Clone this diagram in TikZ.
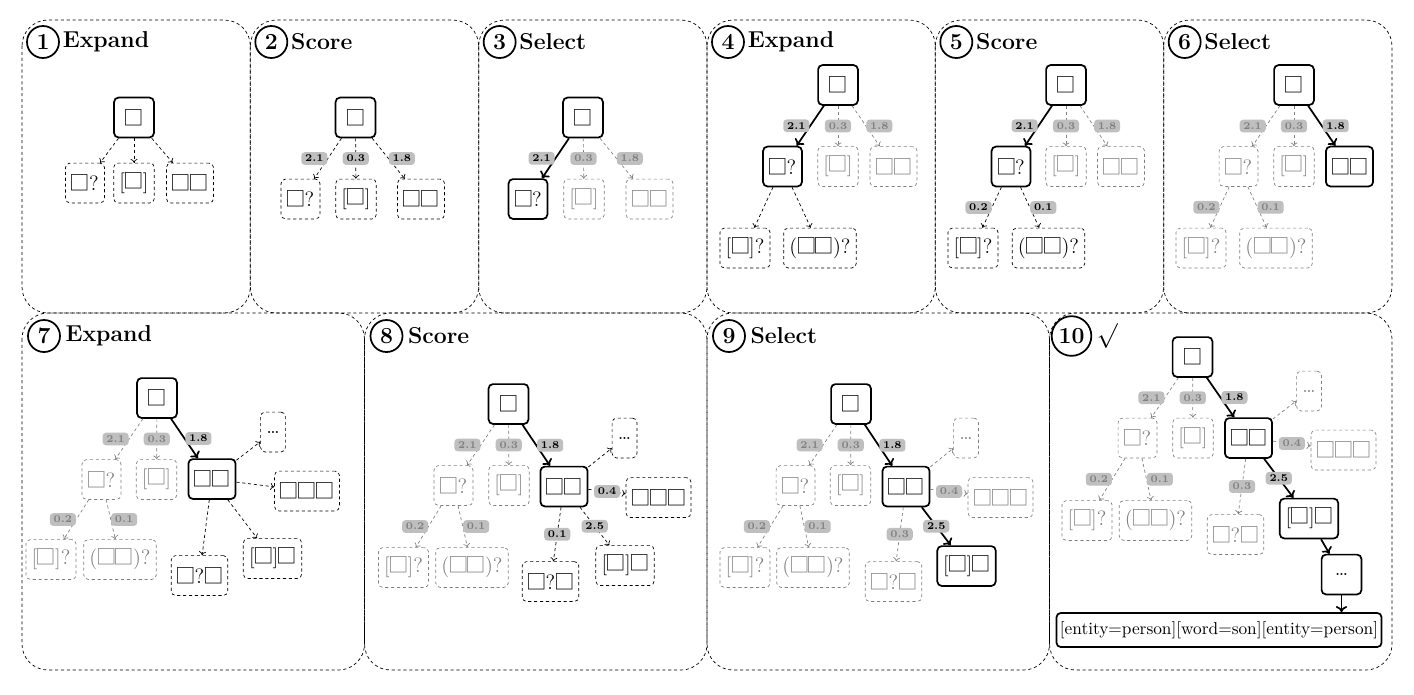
\documentclass[tikz,border=0pt]{standalone}
\usepackage{fontspec}
\newfontfamily\cjk{Noto Sans CJK SC}
\usetikzlibrary{positioning,arrows.meta}
\newcommand\sq{{\cjk\fontsize{11.8}{12}\selectfont\kern-0.75pt□\kern-0.75pt}}

\begin{document}
\begin{tikzpicture}[x=0.578pt,y=-0.578pt,
    stage/.style={draw, dash pattern=on 1.8pt off 1.6pt, rounded corners=15pt},
    num/.style={circle, draw, line width=1pt, inner sep=2pt, minimum size=18.5pt,
        font=\fontsize{13.3}{16}\selectfont\bfseries},
    ttl/.style={inner sep=0pt, font=\fontsize{13.3}{16}\selectfont\bfseries},
    hit/.style={draw, line width=1pt, rounded corners=2.5pt, minimum height=23pt,
        inner xsep=3.3pt, font=\fontsize{12}{14}\selectfont},
    top/.style={hit, minimum width=23pt},
    cand/.style={draw, dash pattern=on 1.8pt off 1.6pt, rounded corners=2.5pt,
        minimum height=23pt, inner xsep=3.3pt, font=\fontsize{12}{14}\selectfont},
    gone/.style={cand, draw=gray, text=gray},
    ext/.style={-{To[length=2.2pt,width=4pt]}, dash pattern=on 1.8pt off 1.6pt},
    extg/.style={ext, gray},
    pick/.style={-{To[length=3.5pt,width=6.5pt]}, line width=1pt},
    sc/.style={fill=gray!50, rounded corners=2pt, inner xsep=2.2pt, inner ysep=1.7pt,
        font=\fontsize{6}{7}\selectfont\bfseries},
    scg/.style={sc, text=gray}]
\useasboundingbox (0,0) rectangle (1414,694);

\foreach \n/\t [count=\i from 0] in {1/Expand,2/Score,3/Select,4/Expand,5/Score,6/Select}{
    \draw[stage] (22+228.33*\i,20) rectangle ++(228.33,293);
    \node[num] (n\n) at (43+228.33*\i,42) {\n};
    \node[ttl, right=1.5pt of n\n] {\t};
}
\foreach \n/\t [count=\i from 0] in {7/Expand,8/Score,9/Select,10/$\surd$}{
    \draw[stage] (22+342.5*\i,313) rectangle ++(342.5,357);
    \node[num] (n\n) at (44+342.5*\i,336) {\n};
    \node[ttl, right=2.5pt of n\n] {\t};
}

% 1 Expand
\node[top] (p1r) at (134,117.5) {\sq};
\node[cand] (p1q) at (85,183) {\sq?};
\node[cand] (p1b) at (134,183) {[\sq]};
\node[cand] (p1c) at (190,183) {\sq\sq};
\foreach \k in {q,b,c} \draw[ext] (p1r) -- (p1\k);

% 2 Score
\node[top] (p2r) at (355.5,117.5) {\sq};
\node[cand] (p2q) at (300.5,199) {\sq?};
\node[cand] (p2b) at (356,199) {[\sq]};
\node[cand] (p2c) at (421,199) {\sq\sq};
\draw[ext] (p2r) -- node[sc, left] {2.1} (p2q);
\draw[ext] (p2r) -- node[sc] {0.3} (p2b);
\draw[ext] (p2r) -- node[sc, right] {1.8} (p2c);

% 3 Select
\node[top] (p3r) at (583,117.5) {\sq};
\node[hit] (p3q) at (528,199) {\sq?};
\node[gone] (p3b) at (584,199) {[\sq]};
\node[gone] (p3c) at (649.5,199) {\sq\sq};
\draw[pick] (p3r) -- node[sc, left] {2.1} (p3q);
\draw[extg] (p3r) -- node[scg] {0.3} (p3b);
\draw[extg] (p3r) -- node[scg, right] {1.8} (p3c);

% 4 Expand
\node[top] (p4r) at (838,85) {\sq};
\node[hit] (p4q) at (782.5,166.5) {\sq?};
\node[gone] (p4b) at (838,166.5) {[\sq]};
\node[gone] (p4c) at (893.5,166.5) {\sq\sq};
\node[cand] (p4d) at (745,248) {[\sq]?};
\node[cand] (p4e) at (820,248) {(\sq\sq)?};
\draw[pick] (p4r) -- node[sc, left] {2.1} (p4q);
\draw[extg] (p4r) -- node[scg] {0.3} (p4b);
\draw[extg] (p4r) -- node[scg, right] {1.8} (p4c);
\draw[ext] (p4q) -- (p4d);
\draw[ext] (p4q) -- (p4e);

% 5 Score
\node[top] (p5r) at (1066,85) {\sq};
\node[hit] (p5q) at (1011,166.5) {\sq?};
\node[gone] (p5b) at (1066,166.5) {[\sq]};
\node[gone] (p5c) at (1121,166.5) {\sq\sq};
\node[cand] (p5d) at (973,248) {[\sq]?};
\node[cand] (p5e) at (1048.5,248) {(\sq\sq)?};
\draw[pick] (p5r) -- node[sc, left] {2.1} (p5q);
\draw[extg] (p5r) -- node[scg] {0.3} (p5b);
\draw[extg] (p5r) -- node[scg, right] {1.8} (p5c);
\draw[ext] (p5q) -- node[sc, left] {0.2} (p5d);
\draw[ext] (p5q) -- node[sc, right] {0.1} (p5e);

% 6 Select
\node[top] (p6r) at (1294,85) {\sq};
\node[gone] (p6q) at (1238.5,166.5) {\sq?};
\node[gone] (p6b) at (1294,166.5) {[\sq]};
\node[hit] (p6c) at (1349.5,166.5) {\sq\sq};
\node[gone] (p6d) at (1201,248) {[\sq]?};
\node[gone] (p6e) at (1276,248) {(\sq\sq)?};
\draw[extg] (p6r) -- node[scg, left] {2.1} (p6q);
\draw[extg] (p6r) -- node[scg] {0.3} (p6b);
\draw[pick] (p6r) -- node[sc, right] {1.8} (p6c);
\draw[extg] (p6q) -- node[scg, left] {0.2} (p6d);
\draw[extg] (p6q) -- node[scg, right] {0.1} (p6e);

% 7 Expand
\node[top] (p7r) at (157,398) {\sq};
\node[gone] (p7q) at (101.5,479.5) {\sq?};
\node[gone] (p7b) at (156.5,479.5) {[\sq]};
\node[hit] (p7c) at (212,479) {\sq\sq};
\node[gone] (p7d) at (51,559.5) {[\sq]?};
\node[gone] (p7e) at (120,559.5) {(\sq\sq)?};
\node[cand] (p7f) at (273,432) {\dots};
\node[cand] (p7g) at (307,491) {\sq\sq\sq};
\node[cand] (p7h) at (272.5,558.5) {[\sq]\sq};
\node[cand] (p7i) at (199.5,575.5) {\sq?\sq};
\draw[extg] (p7r) -- node[scg, left] {2.1} (p7q);
\draw[extg] (p7r) -- node[scg] {0.3} (p7b);
\draw[pick] (p7r) -- node[sc, right] {1.8} (p7c);
\draw[extg] (p7q) -- node[scg, left] {0.2} (p7d);
\draw[extg] (p7q) -- node[scg, right] {0.1} (p7e);
\foreach \k in {f,g,h,i} \draw[ext] (p7c) -- (p7\k);

% 8 Score
\node[top] (p8r) at (508.5,404) {\sq};
\node[gone] (p8q) at (453.5,485.5) {\sq?};
\node[gone] (p8b) at (509,485.5) {[\sq]};
\node[hit] (p8c) at (564,486.5) {\sq\sq};
\node[gone] (p8d) at (403.5,567.5) {[\sq]?};
\node[gone] (p8e) at (472,567.5) {(\sq\sq)?};
\node[cand] (p8f) at (624.5,438) {\dots};
\node[cand] (p8g) at (658.5,497.5) {\sq\sq\sq};
\node[cand] (p8h) at (625,565.5) {[\sq]\sq};
\node[cand] (p8i) at (550.5,581.5) {\sq?\sq};
\draw[extg] (p8r) -- node[scg, left] {2.1} (p8q);
\draw[extg] (p8r) -- node[scg] {0.3} (p8b);
\draw[pick] (p8r) -- node[sc, right] {1.8} (p8c);
\draw[extg] (p8q) -- node[scg, left] {0.2} (p8d);
\draw[extg] (p8q) -- node[scg, right] {0.1} (p8e);
\draw[ext] (p8c) -- (p8f);
\draw[ext] (p8c) -- node[sc] {0.4} (p8g);
\draw[ext] (p8c) -- node[sc] {2.5} (p8h);
\draw[ext] (p8c) -- node[sc] {0.1} (p8i);

% 9 Select
\node[top] (p9r) at (851,404) {\sq};
\node[gone] (p9q) at (795.5,485.5) {\sq?};
\node[gone] (p9b) at (850.5,485.5) {[\sq]};
\node[hit] (p9c) at (906,486.5) {\sq\sq};
\node[gone] (p9d) at (745,567.5) {[\sq]?};
\node[gone] (p9e) at (813,567.5) {(\sq\sq)?};
\node[gone] (p9f) at (966,438) {\dots};
\node[gone] (p9g) at (1000.5,497.5) {\sq\sq\sq};
\node[hit] (p9h) at (966.5,566) {[\sq]\sq};
\node[gone] (p9i) at (893.5,581.5) {\sq?\sq};
\draw[extg] (p9r) -- node[scg, left] {2.1} (p9q);
\draw[extg] (p9r) -- node[scg] {0.3} (p9b);
\draw[pick] (p9r) -- node[sc, right] {1.8} (p9c);
\draw[extg] (p9q) -- node[scg, left] {0.2} (p9d);
\draw[extg] (p9q) -- node[scg, right] {0.1} (p9e);
\draw[extg] (p9c) -- (p9f);
\draw[extg] (p9c) -- node[scg] {0.4} (p9g);
\draw[pick] (p9c) -- node[sc] {2.5} (p9h);
\draw[extg] (p9c) -- node[scg] {0.3} (p9i);

% 10 done
\node[top] (p10r) at (1192.5,357) {\sq};
\node[gone] (p10q) at (1137.5,438) {\sq?};
\node[gone] (p10b) at (1193,438) {[\sq]};
\node[hit] (p10c) at (1248.5,438) {\sq\sq};
\node[gone] (p10d) at (1087,520.5) {[\sq]?};
\node[gone] (p10e) at (1155.5,520.5) {(\sq\sq)?};
\node[gone] (p10f) at (1309,391) {\dots};
\node[gone] (p10g) at (1343.5,450) {\sq\sq\sq};
\node[hit] (p10h) at (1309,518.5) {[\sq]\sq};
\node[gone] (p10i) at (1235.5,534.5) {\sq?\sq};
\node[top] (p10j) at (1341.5,574.5) {\dots};
\node[hit, minimum height=19.7pt, inner xsep=2pt, font=\fontsize{10}{12}\selectfont] (p10k)
    at (1219,630) {[entity=person][word=son][entity=person]};
\draw[extg] (p10r) -- node[scg, left] {2.1} (p10q);
\draw[extg] (p10r) -- node[scg] {0.3} (p10b);
\draw[pick] (p10r) -- node[sc, right] {1.8} (p10c);
\draw[extg] (p10q) -- node[scg, left] {0.2} (p10d);
\draw[extg] (p10q) -- node[scg, right] {0.1} (p10e);
\draw[extg] (p10c) -- (p10f);
\draw[extg] (p10c) -- node[scg] {0.4} (p10g);
\draw[pick] (p10c) -- node[sc] {2.5} (p10h);
\draw[extg] (p10c) -- node[scg] {0.3} (p10i);
\draw[pick] (p10h) -- (p10j);
\draw[pick] (p10j) -- (p10j |- p10k.north);
\end{tikzpicture}
\end{document}
